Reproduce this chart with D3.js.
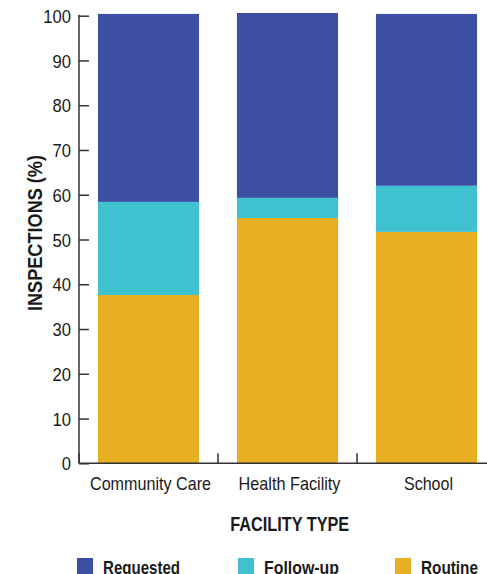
<!DOCTYPE html>
<html>
<head>
<meta charset="utf-8">
<script src="https://cdn.jsdelivr.net/npm/d3@7"></script>
<style>
  body { margin: 0; background: #fff; }
  svg text { font-family: "Liberation Sans", Arial, sans-serif; fill: #1a1a1a; }
</style>
</head>
<body>
<svg id="chart" width="487" height="574"></svg>
<script>
// data
const facilities = ["Community Care", "Health Facility", "School"];
const routine = [37.6, 54.8, 51.7];
const followUp = [20.8, 4.5, 10.3];
const requested = [42.0, 41.3, 38.4];
const seriesNames = ["Requested", "Follow-up", "Routine"];
const seriesColors = ["#3d4fa3", "#3fc2d0", "#e6b022"];
const yTicks = [0, 10, 20, 30, 40, 50, 60, 70, 80, 90, 100];

const rows = facilities.map((f, i) => ({
    facility: f, Routine: routine[i], "Follow-up": followUp[i], Requested: requested[i]
}));

const svg = d3.select("#chart");
const plotL = 79, plotR = 496, plotT = 15.7, plotB = 463.3;

// the reference uses a condensed face, so squeeze the text to its width
const catWidth = { "Community Care": 121, "Health Facility": 102, "School": 49 };
const legWidth = { "Requested": 77, "Follow-up": 75, "Routine": 57 };

const x = d3.scaleBand().domain(facilities).range([plotL, plotR])
    .paddingInner(0.273).paddingOuter(0.1365);
const y = d3.scaleLinear().domain([0, 100]).range([plotB, plotT]);
const color = d3.scaleOrdinal().domain(seriesNames).range(seriesColors);

const stack = d3.stack().keys(["Routine", "Follow-up", "Requested"]);
const layers = stack(rows);

svg.append("g").selectAll("g")
    .data(layers)
    .enter().append("g")
    .attr("fill", d => color(d.key))
    .selectAll("rect")
    .data(d => d)
    .enter().append("rect")
    .attr("x", d => x(d.data.facility))
    .attr("width", x.bandwidth())
    .attr("y", d => y(d[1]))
    .attr("height", d => y(d[0]) - y(d[1]));

// y axis, ticks pointing into the plot
const yAxis = svg.append("g").attr("transform", `translate(${plotL},0)`)
    .call(d3.axisRight(y).tickValues(yTicks).tickSize(10).tickFormat(d3.format("d")));
yAxis.select(".domain").remove();
yAxis.selectAll(".tick line").attr("stroke", "#333").attr("stroke-width", 1.5);
yAxis.selectAll(".tick text")
    .attr("x", -8 / 0.9).attr("text-anchor", "end")
    .attr("transform", "scale(0.9,1)")
    .attr("font-size", 18.5).attr("dy", "0.36em");
svg.append("line")
    .attr("x1", plotL).attr("x2", plotL).attr("y1", plotT - 1).attr("y2", plotB)
    .attr("stroke", "#333").attr("stroke-width", 1.5);

// x axis with ticks between categories
svg.append("line")
    .attr("x1", plotL).attr("x2", plotR).attr("y1", plotB).attr("y2", plotB)
    .attr("stroke", "#333").attr("stroke-width", 1.5);
const step = x.step();
facilities.forEach((f, i) => {
    const bx = plotL + step * i;
    svg.append("line")
        .attr("x1", bx).attr("x2", bx).attr("y1", plotB).attr("y2", plotB - 10)
        .attr("stroke", "#333").attr("stroke-width", 1.5);
    svg.append("text")
        .attr("x", x(f) + x.bandwidth() / 2 + 2)
        .attr("y", 489.5)
        .attr("text-anchor", "middle")
        .attr("font-size", 17.7)
        .attr("textLength", catWidth[f])
        .attr("lengthAdjust", "spacingAndGlyphs")
        .text(f);
});

// axis titles
svg.append("text")
    .attr("x", 289.7)
    .attr("y", 531)
    .attr("text-anchor", "middle")
    .attr("font-size", 20)
    .attr("font-weight", "bold")
    .attr("textLength", 119)
    .attr("lengthAdjust", "spacingAndGlyphs")
    .text("FACILITY TYPE");

svg.append("text")
    .attr("transform", "translate(41.5, 233) rotate(-90)")
    .attr("text-anchor", "middle")
    .attr("font-size", 19.5)
    .attr("font-weight", "bold")
    .attr("textLength", 156)
    .attr("lengthAdjust", "spacingAndGlyphs")
    .text("INSPECTIONS (%)");

// legend
const legendX = [77, 238, 395];
seriesNames.forEach((s, i) => {
    const g = svg.append("g").attr("transform", `translate(${legendX[i]}, 558)`);
    g.append("rect").attr("width", 16).attr("height", 16).attr("fill", color(s));
    g.append("text")
        .attr("x", 26).attr("y", 16)
        .attr("font-size", 19)
        .attr("font-weight", "bold")
        .attr("textLength", legWidth[s])
        .attr("lengthAdjust", "spacingAndGlyphs")
        .text(s);
});
</script>
</body>
</html>
